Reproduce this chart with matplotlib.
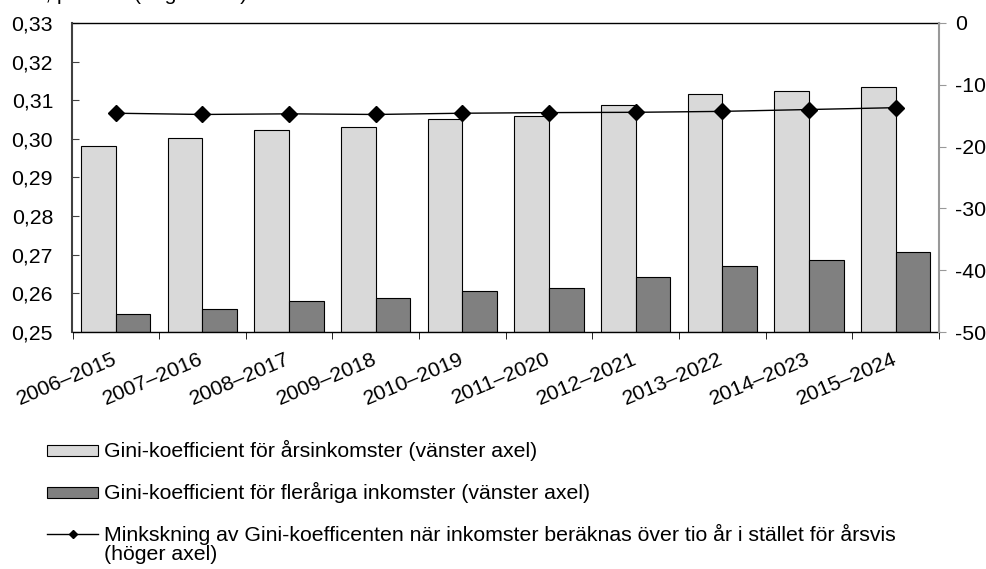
import numpy as np
import matplotlib
matplotlib.use('Agg')
import matplotlib.pyplot as plt
from matplotlib.patches import Rectangle
from matplotlib.lines import Line2D
from matplotlib.ticker import FuncFormatter

plt.rcParams['font.family'] = ['Liberation Sans', 'DejaVu Sans']
plt.rcParams['font.size'] = 15.3

# data
perioder = ['2006–2015', '2007–2016', '2008–2017', '2009–2018', '2010–2019',
            '2011–2020', '2012–2021', '2013–2022', '2014–2023', '2015–2024']
gini_ar = [0.2981, 0.3002, 0.3023, 0.3032, 0.3051, 0.3060, 0.3088, 0.3117, 0.3124, 0.3135]
gini_fler = [0.2546, 0.2559, 0.2580, 0.2587, 0.2607, 0.2615, 0.2642, 0.2672, 0.2687, 0.2706]
minskning = [-14.6, -14.8, -14.7, -14.8, -14.6, -14.5, -14.45, -14.3, -14.0, -13.7]

lab_ar = 'Gini-koefficient för årsinkomster (vänster axel)'
lab_fler = 'Gini-koefficient för fleråriga inkomster (vänster axel)'
lab_mink = 'Minkskning av Gini-koefficenten när inkomster beräknas över tio år i stället för årsvis'
lab_mink2 = '(höger axel)'

W, H = 987, 569
fig = plt.figure(figsize=(W / 100, H / 100), dpi=100)
ax = fig.add_axes([72.5 / W, 1 - 332 / H, (939 - 72.5) / W, (332 - 23) / H])

x = np.arange(len(perioder))
bw = 0.4
ax.bar(x - bw / 2, np.array(gini_ar) - 0.25, bw, bottom=0.25, color='#d9d9d9',
       edgecolor='black', linewidth=0.8, zorder=2)
ax.bar(x + bw / 2, np.array(gini_fler) - 0.25, bw, bottom=0.25, color='#808080',
       edgecolor='black', linewidth=0.8, zorder=2)

ax.set_xlim(-0.5, len(perioder) - 0.5)
ax.set_ylim(0.25, 0.33)
ax.set_yticks(np.arange(0.25, 0.3301, 0.01))
ax.yaxis.set_major_formatter(FuncFormatter(lambda v, p: '{:.2f}'.format(v).replace('.', ',')))
ax.tick_params(axis='y', direction='in', length=5, pad=14, color='#404040')

ax.set_xticks(x)
ax.set_xticklabels(perioder, rotation=23, ha='right', va='center', rotation_mode='anchor')
ax.set_xticks(np.arange(-0.5, len(perioder)), minor=True)
ax.tick_params(axis='x', which='major', length=0, pad=19)
ax.tick_params(axis='x', which='minor', direction='out', length=5, color='black')

ax.spines['left'].set_color('#404040')
ax.spines['left'].set_linewidth(1.5)
ax.spines['top'].set_linewidth(1.0)
ax.spines['bottom'].set_linewidth(1.0)
ax.spines['right'].set_visible(False)

ax2 = ax.twinx()
ax2.plot(x, minskning, color='black', linewidth=1.0, marker='D', markersize=8.5, zorder=3)
ax2.set_ylim(-50, 0)
ax2.set_yticks(np.arange(-50, 1, 10))
ax2.yaxis.set_major_formatter(FuncFormatter(lambda v, p: '{:d}'.format(int(round(v)))))
ax2.tick_params(axis='y', direction='out', length=5, pad=6.5, color='#999999')
for s in ['left', 'top', 'bottom']:
    ax2.spines[s].set_visible(False)
ax2.spines['right'].set_color('#999999')
ax2.spines['right'].set_linewidth(1.5)

# text cut off at the top edge, as in the original
fig.text(247 / W, 1 - 0.5 / H, 'Gini-koefficient, procent (höger axel)', ha='right', va='baseline')

# legend drawn below the chart
leg = fig.add_axes([0, 0, 1, 1])
leg.set_xlim(0, W)
leg.set_ylim(H, 0)
leg.axis('off')
leg.add_patch(Rectangle((47, 445), 51, 11, facecolor='#d9d9d9', edgecolor='black', linewidth=0.8))
leg.add_patch(Rectangle((47, 487), 51, 11, facecolor='#808080', edgecolor='black', linewidth=0.8))
leg.add_line(Line2D([47, 98], [534, 534], color='black', linewidth=1.0))
leg.plot([72.5], [534], marker='D', color='black', markersize=4)
leg.text(104, 450.5, lab_ar, va='center', ha='left')
leg.text(104, 492, lab_fler, va='center', ha='left')
leg.text(104, 534, lab_mink, va='center', ha='left')
leg.text(104, 555, lab_mink2, va='center', ha='left')

fig.savefig('out.png', dpi=100)
